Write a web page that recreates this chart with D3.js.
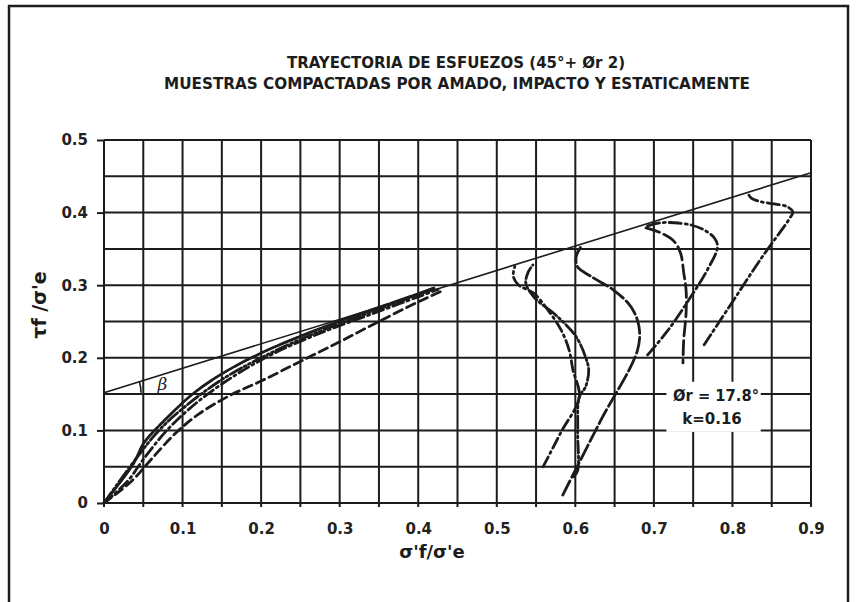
<!DOCTYPE html>
<html>
<head>
<meta charset="utf-8">
<script src="https://cdn.jsdelivr.net/npm/d3@7"></script>
<style>
  body { margin: 0; background: #fff; }
  svg { display: block; }
  .tick text { font-family: "DejaVu Sans", sans-serif; font-weight: bold; font-size: 15px; fill: #222; }
</style>
</head>
<body>
<svg width="856" height="602"></svg>
<script>
// stress paths, normalised: x = sigma'f/sigma'e, y = tau f/sigma'e
var xTicks = [0, 0.1, 0.2, 0.3, 0.4, 0.5, 0.6, 0.7, 0.8, 0.9];
var yTicks = [0, 0.1, 0.2, 0.3, 0.4, 0.5];
var gridStep = 0.05;

var failureLine = [[0, 0.152], [0.9, 0.455]];

// curves from the origin (all end near 0.42 / 0.30)
var pathSolid = [[0, 0], [0.038, 0.055], [0.051, 0.083], [0.081, 0.118], [0.115, 0.152], [0.158, 0.183],
  [0.209, 0.211], [0.260, 0.234], [0.314, 0.256], [0.365, 0.275], [0.420, 0.296]];
var pathDashed = [[0, 0], [0.035, 0.03], [0.06, 0.06], [0.09, 0.095], [0.12, 0.122], [0.16, 0.148],
  [0.2, 0.168], [0.25, 0.195], [0.3, 0.222], [0.35, 0.25], [0.4, 0.277], [0.43, 0.292]];
var pathDashDot = [[0, 0], [0.03, 0.03], [0.05, 0.06], [0.08, 0.1], [0.12, 0.14], [0.17, 0.178],
  [0.22, 0.208], [0.28, 0.236], [0.34, 0.26], [0.4, 0.284], [0.425, 0.294]];
var pathDashDotDot = [[0, 0], [0.04, 0.06], [0.07, 0.1], [0.1, 0.13], [0.15, 0.17], [0.2, 0.2],
  [0.26, 0.23], [0.32, 0.255], [0.38, 0.279], [0.42, 0.296]];

// curves that climb to the failure line on the right
var pathR1 = [[0.559, 0.050], [0.582, 0.098], [0.605, 0.146], [0.597, 0.183], [0.592, 0.211], [0.582, 0.238],
  [0.565, 0.266], [0.547, 0.289], [0.528, 0.300], [0.521, 0.312], [0.523, 0.326]];
var pathR2 = [[0.584, 0.011], [0.632, 0.113], [0.679, 0.210], [0.681, 0.243], [0.671, 0.270], [0.649, 0.293],
  [0.620, 0.312], [0.603, 0.325], [0.601, 0.339], [0.607, 0.353]];
var pathR3 = [[0.598, 0.036], [0.603, 0.045], [0.603, 0.100], [0.605, 0.146], [0.613, 0.160], [0.617, 0.183],
  [0.613, 0.201], [0.601, 0.229], [0.578, 0.256], [0.547, 0.284], [0.537, 0.303], [0.540, 0.318], [0.546, 0.328]];
var pathR4 = [[0.692, 0.204], [0.718, 0.238], [0.747, 0.284], [0.768, 0.321], [0.781, 0.353], [0.777, 0.365],
  [0.764, 0.376], [0.747, 0.383], [0.726, 0.386], [0.709, 0.386], [0.690, 0.381]];
var pathR5 = [[0.690, 0.379], [0.709, 0.372], [0.726, 0.360], [0.734, 0.344], [0.738, 0.317], [0.741, 0.293],
  [0.741, 0.262], [0.738, 0.225], [0.737, 0.193]];
var pathR6 = [[0.764, 0.218], [0.800, 0.277], [0.836, 0.336], [0.874, 0.394], [0.877, 0.401], [0.870, 0.408],
  [0.853, 0.412], [0.836, 0.415], [0.824, 0.420], [0.821, 0.424]];

var svg = d3.select("svg"),
    width = +svg.attr("width"),
    height = +svg.attr("height");

var x = d3.scaleLinear().domain([0, 0.9]).range([104, 811]);
var y = d3.scaleLinear().domain([0, 0.5]).range([503, 140]);

var ink = "#1c1c1c";

// frame of the scanned page
svg.append("rect")
    .attr("x", 9).attr("y", 6)
    .attr("width", 839).attr("height", 620)
    .attr("fill", "none")
    .attr("stroke", ink)
    .attr("stroke-width", 2.5);

// title
var title = svg.append("g")
    .attr("font-family", "'DejaVu Sans Condensed', 'DejaVu Sans', sans-serif")
    .attr("font-weight", "bold")
    .attr("font-size", 16)
    .attr("fill", ink)
    .attr("text-anchor", "middle");
title.append("text").attr("x", 456).attr("y", 68)
    .attr("textLength", 338).attr("lengthAdjust", "spacingAndGlyphs")
    .text("TRAYECTORIA DE ESFUEZOS (45°+ Ør 2)");
title.append("text").attr("x", 457).attr("y", 89)
    .attr("textLength", 586).attr("lengthAdjust", "spacingAndGlyphs")
    .text("MUESTRAS COMPACTADAS POR AMADO, IMPACTO Y ESTATICAMENTE");

// grid
var g = svg.append("g");
g.selectAll(".vgrid")
    .data(d3.range(0, 0.9 + 1e-9, gridStep))
    .enter().append("line")
      .attr("class", "vgrid")
      .attr("x1", function(d) { return x(d); })
      .attr("x2", function(d) { return x(d); })
      .attr("y1", y(0) + 4)
      .attr("y2", y(0.5))
      .attr("stroke", ink)
      .attr("stroke-width", 2);

g.selectAll(".hgrid")
    .data(d3.range(0, 0.5 + 1e-9, gridStep))
    .enter().append("line")
      .attr("class", "hgrid")
      .attr("x1", x(0))
      .attr("x2", x(0.9))
      .attr("y1", function(d) { return y(d); })
      .attr("y2", function(d) { return y(d); })
      .attr("stroke", ink)
      .attr("stroke-width", 2);

// axes
var xAxis = svg.append("g")
    .attr("transform", "translate(0," + y(0) + ")")
    .call(d3.axisBottom(x).tickValues(xTicks).tickSize(0).tickPadding(20)
      .tickFormat(function(d) { return d === 0 ? "0" : d3.format(".1f")(d); }));
xAxis.select(".domain").remove();

var yAxis = svg.append("g")
    .attr("transform", "translate(" + x(0) + ",0)")
    .call(d3.axisLeft(y).tickValues(yTicks).tickSize(7).tickPadding(9)
      .tickFormat(function(d) { return d === 0 ? "0" : d3.format(".1f")(d); }));
yAxis.select(".domain").remove();
yAxis.selectAll(".tick line").attr("stroke", ink).attr("stroke-width", 2);

// white box behind the annotation
svg.append("rect")
    .attr("x", x(0.716)).attr("y", y(0.167))
    .attr("width", x(0.836) - x(0.716))
    .attr("height", y(0.098) - y(0.167))
    .attr("fill", "#fff");

// failure envelope
var line = d3.line()
    .x(function(d) { return x(d[0]); })
    .y(function(d) { return y(d[1]); });

svg.append("path")
    .attr("d", line(failureLine))
    .attr("fill", "none")
    .attr("stroke", ink)
    .attr("stroke-width", 1.6);

// beta angle
svg.append("path")
    .attr("transform", "translate(" + x(0) + "," + y(failureLine[0][1]) + ")")
    .attr("d", d3.arc().innerRadius(37).outerRadius(37)
      .startAngle(Math.PI / 2 - 0.31).endAngle(Math.PI / 2)())
    .attr("fill", "none")
    .attr("stroke", ink)
    .attr("stroke-width", 1.6);
svg.append("text")
    .attr("x", x(0.068)).attr("y", y(0.152) - 3)
    .attr("font-family", "'DejaVu Serif', serif")
    .attr("font-style", "italic")
    .attr("font-size", 17)
    .attr("fill", ink)
    .text("β");

// stress paths
var curve = d3.line()
    .x(function(d) { return x(d[0]); })
    .y(function(d) { return y(d[1]); })
    .curve(d3.curveCatmullRom.alpha(0.5));

var paths = [
  { pts: pathDashed, dash: "9,5" },
  { pts: pathDashDot, dash: "11,4,2,4" },
  { pts: pathDashDotDot, dash: "13,3,2,3,2,3" },
  { pts: pathSolid, dash: "22,2" },
  { pts: pathR1, dash: "11,4,2,4" },
  { pts: pathR2, dash: "16,4" },
  { pts: pathR3, dash: "12,3,2,3,2,3" },
  { pts: pathR4, dash: "12,4,2,4" },
  { pts: pathR5, dash: "14,5" },
  { pts: pathR6, dash: "12,4,2,4" }
];

svg.selectAll(".stress")
    .data(paths)
    .enter().append("path")
      .attr("class", "stress")
      .attr("d", function(d) { return curve(d.pts); })
      .attr("fill", "none")
      .attr("stroke", ink)
      .attr("stroke-width", 2.8)
      .attr("stroke-linecap", "round")
      .attr("stroke-dasharray", function(d) { return d.dash; });

// annotation
var note = svg.append("g")
    .attr("font-family", "'DejaVu Sans', sans-serif")
    .attr("font-weight", "bold")
    .attr("font-size", 15)
    .attr("fill", ink)
    .attr("text-anchor", "middle");
note.append("text").attr("x", 716).attr("y", 401)
    .attr("textLength", 86).attr("lengthAdjust", "spacingAndGlyphs")
    .text("Ør = 17.8°");
note.append("text").attr("x", 712).attr("y", 424).text("k=0.16");

// axis titles
svg.append("text")
    .attr("x", 432).attr("y", 558)
    .attr("text-anchor", "middle")
    .attr("font-family", "'DejaVu Sans', sans-serif")
    .attr("font-weight", "bold")
    .attr("font-size", 18)
    .attr("fill", ink)
    .text("σ'f/σ'e");

svg.append("text")
    .attr("transform", "translate(46,305) rotate(-90)")
    .attr("text-anchor", "middle")
    .attr("font-family", "'DejaVu Sans', sans-serif")
    .attr("font-weight", "bold")
    .attr("font-size", 19)
    .attr("fill", ink)
    .text("τf /σ'e");
</script>
</body>
</html>
